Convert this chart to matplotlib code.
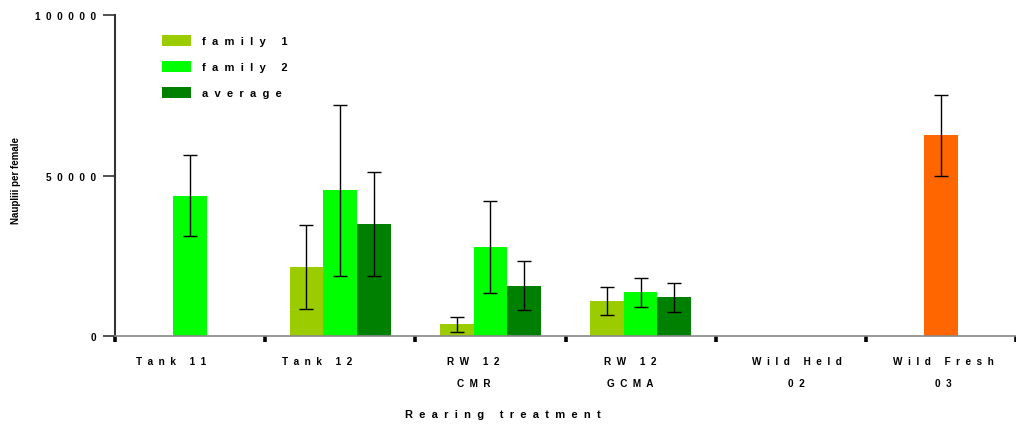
import numpy as np
import matplotlib
matplotlib.use("Agg")
import matplotlib.pyplot as plt
from matplotlib.patches import Patch

# Naupliar production per female by rearing treatment
categories = ["Tank 11", "Tank 12", "RW 12\nCMR", "RW 12\nGCMA", "Wild Held\n02", "Wild Fresh\n03"]
nan = np.nan
family1 = [nan, 21600, 3700, 11000, nan, nan]
family1_err = [nan, 13200, 2400, 4400, nan, nan]
family2 = [43800, 45400, 27800, 13700, nan, nan]
family2_err = [12600, 26500, 14300, 4600, nan, nan]
average = [nan, 35000, 15800, 12200, nan, nan]
average_err = [nan, 16200, 7500, 4500, nan, nan]
wild = [nan, nan, nan, nan, nan, 62600]
wild_err = [nan, nan, nan, nan, nan, 12600]

series_names = ["family 1", "family 2", "average"]
y_ticks = [0, 50000, 100000]

FONT = "Liberation Sans"
W, H = 1016, 427
GROUP_PX = 151.0

# horizontal nudge of each category label, in pixels
label_nudge_px = [-19, -23, -17, -10, 6, 2]


def spaced(text):
    """Wide letter-spaced rendering of a label, line by line."""
    lines = []
    for line in text.split("\n"):
        words = line.split(" ")
        lines.append("     ".join("  ".join(w) for w in words))
    return "\n".join(lines)


fig = plt.figure(figsize=(W / 100, H / 100), dpi=100)
left, right = 115 / W, 1.0
bottom, top = (H - 337.3) / H, (H - 16.1) / H
ax = fig.add_axes([left, bottom, right - left, top - bottom])

x = np.arange(len(categories))
bw = 0.225
colors = ["#9ACC00", "#00FF00", "#008000"]
err_kw = dict(ecolor="black", elinewidth=1.0, capsize=4.7, capthick=1.0)

ax.bar(x - bw, family1, bw, yerr=family1_err, color=colors[0], error_kw=err_kw, zorder=2)
ax.bar(x, family2, bw, yerr=family2_err, color=colors[1], error_kw=err_kw, zorder=2)
ax.bar(x + bw, average, bw, yerr=average_err, color=colors[2], error_kw=err_kw, zorder=2)
ax.bar(x, wild, bw, yerr=wild_err, color="#FF6600", error_kw=err_kw, zorder=2)

ax.set_ylim(0, 100000)
ax.set_xlim(-0.5, -0.5 + (W - 115) / GROUP_PX)

for s in ["top", "right"]:
    ax.spines[s].set_visible(False)
ax.spines["left"].set_color("#333333")
ax.spines["left"].set_linewidth(1.5)
ax.spines["bottom"].set_color("#888888")
ax.spines["bottom"].set_linewidth(1.2)

ax.set_yticks(y_ticks)
ax.set_yticklabels([spaced(str(v)) for v in y_ticks], fontsize=7.2,
                   fontweight="bold", family=FONT)
ax.tick_params(axis="y", length=8.5, width=1.2, color="#333333", pad=5)

label_pos = x + np.array(label_nudge_px) / GROUP_PX
ax.set_xticks(label_pos)
ax.set_xticklabels([spaced(c) for c in categories], fontsize=7.2,
                   fontweight="bold", family=FONT, linespacing=2.45)
ax.tick_params(axis="x", which="major", length=0, pad=14.5)
ax.set_xticks(np.arange(-0.5, len(categories), 1.0), minor=True)
ax.tick_params(axis="x", which="minor", length=4, width=2.6, color="black")

fig.text(16 / W, 1 - 180 / H, "Naupliii per female", rotation=90, ha="center",
         va="center", fontsize=7, fontweight="bold", family=FONT)
fig.text(503 / W, 1 - 415 / H, spaced("Rearing treatment"), ha="center",
         va="center", fontsize=8, fontweight="bold", family=FONT)

handles = [Patch(facecolor=c, edgecolor="none") for c in colors]
fig.legend(handles, [spaced(n) for n in series_names], loc="upper left",
           bbox_to_anchor=(162 / W, 1 - 35.5 / H), bbox_transform=fig.transFigure,
           frameon=False, borderaxespad=0, borderpad=0,
           prop=dict(family=FONT, weight="bold", size=8),
           handlelength=2.6, handleheight=1.17, handletextpad=1.0,
           labelspacing=1.32)

fig.savefig("out.png", dpi=100)
